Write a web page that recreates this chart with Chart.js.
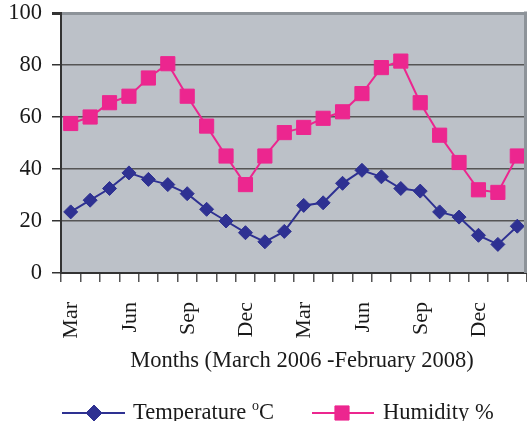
<!DOCTYPE html>
<html>
<head>
<meta charset="utf-8">
<script src="https://cdn.jsdelivr.net/npm/chart.js@4/dist/chart.umd.min.js"></script>
<style>
  html, body { margin: 0; padding: 0; background: #ffffff; }
  #wrap { width: 527px; height: 421px; }
</style>
</head>
<body>
<div id="wrap"><canvas id="c" width="527" height="421"></canvas></div>
<script>
// Monthly readings, March 2006 - February 2008
const months = ['Mar', 'Apr', 'May', 'Jun', 'Jul', 'Aug', 'Sep', 'Oct', 'Nov', 'Dec', 'Jan', 'Feb',
                'Mar', 'Apr', 'May', 'Jun', 'Jul', 'Aug', 'Sep', 'Oct', 'Nov', 'Dec', 'Jan', 'Feb'];
const temperature = [23.5, 28, 32.5, 38.5, 36, 34, 30.5, 24.5, 20, 15.5, 12, 16,
                     26, 27, 34.5, 39.5, 37, 32.5, 31.5, 23.5, 21.5, 14.5, 11, 18];
const humidity = [57.5, 60, 65.5, 68, 75, 80.5, 68, 56.5, 45, 34, 45, 54,
                  56, 59.5, 62, 69, 79, 81.5, 65.5, 53, 42.5, 32, 31, 45];
const yTicks = [0, 20, 40, 60, 80, 100];
const axisTitle = 'Months (March 2006 -February 2008)';

const SERIF = "'Liberation Serif', 'Times New Roman', serif";
const NAVY = '#2e3192';
const PINK = '#ec268f';
const PLOT_BG = '#bcc1c8';
const FRAME = '#8d9399';

// Plot background, frame, axis title and legend
const decor = {
  id: 'decor',
  beforeDraw(chart) {
    const { ctx, chartArea: a } = chart;
    ctx.save();
    ctx.fillStyle = PLOT_BG;
    ctx.fillRect(a.left, a.top, a.right - a.left, a.bottom - a.top);
    ctx.restore();
  },
  afterDraw(chart) {
    const { ctx, chartArea: a } = chart;
    ctx.save();
    // right frame edge
    ctx.strokeStyle = FRAME;
    ctx.lineWidth = 3;
    ctx.beginPath();
    ctx.moveTo(a.right - 1.5, a.top - 1.5);
    ctx.lineTo(a.right - 1.5, a.bottom);
    ctx.stroke();

    // axis title
    ctx.fillStyle = '#1a1a1a';
    ctx.font = '22.5px ' + SERIF;
    ctx.textAlign = 'center';
    ctx.textBaseline = 'middle';
    ctx.fillText(axisTitle, 302, 361);

    // legend
    const ly = 413;
    const items = [
      { x0: 62, x1: 125, xm: 94, tx: 133, ds: chart.data.datasets[0], r: 8,
        parts: [['Temperature ', 22.5, 0], ['o', 14, -9], ['C', 22.5, 0]] },
      { x0: 312, x1: 374, xm: 342, tx: 383, ds: chart.data.datasets[1], r: 10,
        parts: [['Humidity %', 22.5, 0]] }
    ];
    items.forEach(it => {
      ctx.strokeStyle = it.ds.borderColor;
      ctx.lineWidth = 2;
      ctx.beginPath();
      ctx.moveTo(it.x0, ly);
      ctx.lineTo(it.x1, ly);
      ctx.stroke();
      ctx.fillStyle = it.ds.backgroundColor;
      ctx.strokeStyle = it.ds.borderColor;
      ctx.lineWidth = 1;
      Chart.helpers.drawPoint(ctx, {
        pointStyle: it.ds.pointStyle,
        radius: it.r,
        borderWidth: 1
      }, it.xm, ly);
      let tx = it.tx;
      ctx.fillStyle = '#1a1a1a';
      ctx.textAlign = 'left';
      ctx.textBaseline = 'alphabetic';
      it.parts.forEach(([txt, size, dy]) => {
        ctx.font = size + 'px ' + SERIF;
        ctx.fillText(txt, tx, ly + 6 + dy);
        tx += ctx.measureText(txt).width;
      });
    });
    ctx.restore();
  }
};

new Chart(document.getElementById('c'), {
  type: 'line',
  data: {
    labels: months,
    datasets: [
      {
        label: 'Temperature °C',
        data: temperature,
        borderColor: NAVY,
        backgroundColor: NAVY,
        borderWidth: 2,
        pointStyle: 'rectRot',
        pointRadius: 7,
        pointBorderWidth: 1,
        pointHoverRadius: 7,
        tension: 0
      },
      {
        label: 'Humidity %',
        data: humidity,
        borderColor: PINK,
        backgroundColor: PINK,
        borderWidth: 2,
        pointStyle: 'rect',
        pointRadius: 10,
        pointBorderWidth: 1,
        pointHoverRadius: 10,
        tension: 0
      }
    ]
  },
  options: {
    responsive: false,
    animation: false,
    devicePixelRatio: 1,
    layout: { autoPadding: false, padding: { top: 13, right: 0, bottom: 50, left: 0 } },
    plugins: {
      legend: { display: false },
      tooltip: { enabled: false },
      title: { display: false }
    },
    scales: {
      x: {
        type: 'category',
        offset: true,
        grid: {
          offset: true,
          drawOnChartArea: false,
          drawTicks: true,
          tickLength: 9,
          color: '#555555',
          tickColor: '#555555',
          lineWidth: 1.5
        },
        border: { display: true, color: '#333333', width: 2 },
        ticks: {
          autoSkip: false,
          maxRotation: 90,
          minRotation: 90,
          padding: 20,
          labelOffset: 1,
          color: '#1a1a1a',
          font: { family: SERIF, size: 22 },
          callback: (v, i) => (i % 3 === 0 ? months[i] : '')
        },
        afterFit(s) {
          s.height = 98;
          s.paddingLeft = 0;
          s.paddingRight = 0;
        }
      },
      y: {
        min: 0,
        max: 100,
        afterBuildTicks(s) {
          s.ticks = yTicks.map(v => ({ value: v }));
        },
        grid: {
          drawTicks: true,
          tickLength: 9,
          color: c => (c.tick && c.tick.value === 100 ? FRAME : '#555555'),
          lineWidth: c => (c.tick && c.tick.value === 100 ? 3 : 1.5),
          tickColor: '#333333'
        },
        border: { display: true, color: '#333333', width: 2 },
        ticks: {
          padding: 10,
          color: '#1a1a1a',
          font: { family: SERIF, size: 22.5 }
        },
        afterFit(s) {
          s.width = 61;
          s.paddingTop = 0;
          s.paddingBottom = 0;
        }
      }
    }
  },
  plugins: [decor]
});
</script>
</body>
</html>
